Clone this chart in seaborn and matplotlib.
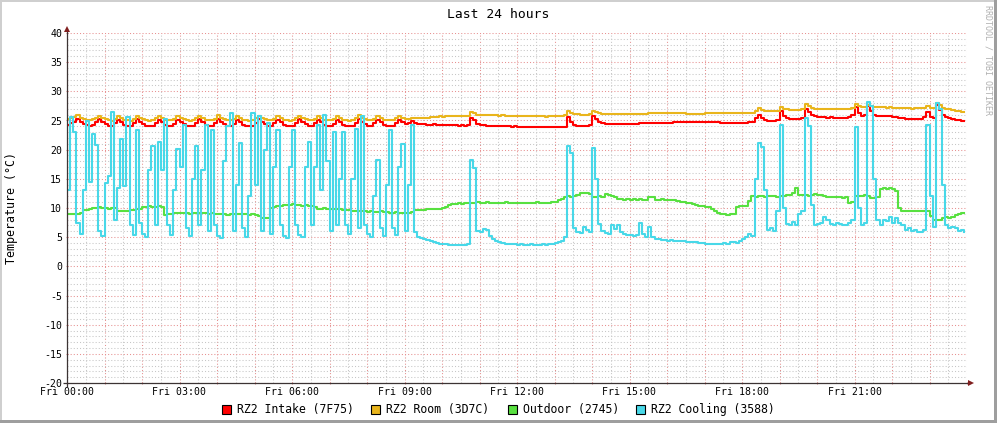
import numpy as np
import pandas as pd
import matplotlib
matplotlib.use("Agg")
import matplotlib.pyplot as plt
import seaborn as sns
from matplotlib.ticker import MultipleLocator, FuncFormatter
from matplotlib.patches import Rectangle

# ---------------- data (5-minute samples, Fri 00:00 -> 24:00) ----------------
series_names = ["RZ2 Intake (7F75)", "RZ2 Room (3D7C)", "Outdoor (2745)", "RZ2 Cooling (3588)"]
series_colors = ["#FF0000", "#E9B51C", "#58E040", "#48D8E8"]
step_minutes = 5

intake = [
24.3, 24.5, 24.8, 25.2, 24.8, 24.4, 24.2, 24.1, 24.3, 24.7,
25.2, 24.8, 24.4, 24.1, 24.0, 24.5, 25.1, 24.7, 24.3, 24.1,
24.0, 24.5, 25.2, 24.8, 24.4, 24.1, 24.0, 24.0, 24.6, 25.1,
24.7, 24.3, 24.1, 24.0, 24.4, 25.1, 24.8, 24.4, 24.1, 24.0,
24.0, 24.6, 25.2, 24.7, 24.3, 24.1, 24.0, 24.5, 25.2, 24.8,
24.4, 24.1, 24.0, 24.4, 25.1, 24.7, 24.3, 24.1, 24.0, 24.0,
24.6, 25.2, 24.8, 24.4, 24.1, 24.0, 24.5, 25.1, 24.7, 24.3,
24.1, 24.0, 24.0, 24.6, 25.2, 24.8, 24.4, 24.1, 24.0, 24.5,
25.1, 24.7, 24.3, 24.1, 24.0, 24.4, 25.1, 24.7, 24.3, 24.1,
24.0, 24.0, 24.6, 25.2, 24.8, 24.4, 24.1, 24.0, 24.5, 25.1,
24.7, 24.3, 24.1, 24.0, 24.0, 24.6, 25.1, 24.7, 24.4, 24.5,
24.9, 24.6, 24.4, 24.4, 24.4, 24.3, 24.3, 24.4, 24.3, 24.3,
24.2, 24.3, 24.2, 24.2, 24.2, 24.1, 24.2, 24.1, 24.2, 25.4,
25.0, 24.4, 24.2, 24.2, 24.1, 24.1, 24.1, 24.0, 24.1, 24.0,
24.0, 24.0, 23.9, 24.0, 23.9, 23.9, 23.9, 23.9, 23.8, 23.9,
23.8, 23.9, 23.8, 23.8, 23.8, 23.9, 23.8, 23.8, 23.8, 23.9,
25.6, 24.8, 24.2, 24.0, 24.0, 24.0, 24.0, 24.2, 25.7, 25.2,
24.7, 24.5, 24.4, 24.4, 24.4, 24.4, 24.4, 24.4, 24.4, 24.4,
24.4, 24.4, 24.4, 24.6, 24.6, 24.6, 24.6, 24.6, 24.6, 24.6,
24.6, 24.6, 24.6, 24.6, 24.7, 24.7, 24.7, 24.7, 24.7, 24.7,
24.7, 24.7, 24.7, 24.7, 24.7, 24.7, 24.7, 24.7, 24.7, 24.5,
24.5, 24.5, 24.5, 24.5, 24.5, 24.5, 24.6, 24.6, 24.7, 24.8,
25.4, 26.0, 25.4, 25.0, 24.9, 24.9, 24.9, 25.0, 26.6, 25.8,
25.4, 25.3, 25.3, 25.2, 25.3, 25.5, 27.0, 26.4, 25.9, 25.7,
25.6, 25.6, 25.6, 25.5, 25.6, 25.5, 25.5, 25.5, 25.5, 25.5,
25.6, 26.0, 27.3, 26.3, 25.8, 26.0, 27.4, 26.6, 26.0, 25.8,
25.7, 25.7, 25.8, 25.7, 25.6, 25.6, 25.5, 25.4, 25.3, 25.3,
25.3, 25.3, 25.3, 25.3, 25.6, 26.4, 25.6, 25.5, 27.7, 26.8,
26.0, 25.6, 25.4, 25.2, 25.0, 25.0, 24.9, 24.9,
]

room = [
25.2, 25.4, 25.6, 25.9, 25.5, 25.2, 25.0, 25.0, 25.2, 25.5,
25.8, 25.5, 25.2, 25.0, 24.9, 25.3, 25.8, 25.4, 25.1, 25.0,
24.9, 25.3, 25.8, 25.5, 25.2, 25.0, 24.9, 25.0, 25.4, 25.8,
25.4, 25.1, 25.0, 25.0, 25.3, 25.8, 25.5, 25.2, 25.0, 24.9,
25.0, 25.4, 25.8, 25.4, 25.1, 25.0, 25.0, 25.3, 25.9, 25.5,
25.2, 25.0, 25.0, 25.3, 25.8, 25.4, 25.1, 25.0, 24.9, 25.0,
25.4, 25.8, 25.5, 25.2, 25.0, 25.0, 25.3, 25.8, 25.4, 25.1,
25.0, 24.9, 25.0, 25.4, 25.8, 25.5, 25.2, 25.0, 25.0, 25.3,
25.8, 25.4, 25.1, 25.0, 25.0, 25.3, 25.8, 25.4, 25.1, 25.0,
24.9, 25.0, 25.4, 25.9, 25.5, 25.2, 25.0, 25.0, 25.3, 25.8,
25.4, 25.1, 25.0, 25.0, 25.0, 25.4, 25.8, 25.4, 25.2, 25.2,
25.4, 25.4, 25.5, 25.5, 25.5, 25.5, 25.6, 25.6, 25.6, 25.7,
25.6, 25.7, 25.7, 25.7, 25.7, 25.8, 25.7, 25.7, 25.8, 26.4,
26.2, 26.0, 26.0, 26.0, 25.9, 25.9, 25.9, 25.9, 25.8, 25.9,
25.8, 25.8, 25.8, 25.8, 25.8, 25.7, 25.8, 25.7, 25.7, 25.7,
25.7, 25.7, 25.7, 25.6, 25.7, 25.7, 25.7, 25.7, 25.8, 25.9,
26.6, 26.3, 26.1, 26.1, 26.0, 26.0, 26.0, 26.1, 26.6, 26.4,
26.2, 26.1, 26.1, 26.1, 26.1, 26.1, 26.1, 26.1, 26.1, 26.1,
26.1, 26.1, 26.1, 26.1, 26.1, 26.1, 26.2, 26.2, 26.2, 26.2,
26.2, 26.2, 26.2, 26.2, 26.2, 26.2, 26.2, 26.2, 26.1, 26.1,
26.1, 26.1, 26.1, 26.1, 26.2, 26.2, 26.2, 26.2, 26.2, 26.2,
26.2, 26.2, 26.2, 26.2, 26.2, 26.2, 26.3, 26.3, 26.3, 26.3,
26.6, 27.1, 26.8, 26.7, 26.6, 26.6, 26.6, 26.7, 27.3, 27.0,
26.9, 26.8, 26.8, 26.8, 26.8, 27.0, 27.9, 27.5, 27.1, 27.0,
26.9, 26.9, 26.9, 27.0, 26.9, 26.9, 26.9, 26.9, 26.9, 26.9,
27.0, 27.2, 27.9, 27.5, 27.3, 27.3, 27.7, 27.4, 27.3, 27.3,
27.3, 27.3, 27.2, 27.3, 27.2, 27.2, 27.1, 27.1, 27.1, 27.1,
27.0, 27.1, 27.1, 27.1, 27.2, 27.4, 27.2, 27.2, 28.0, 27.6,
27.2, 27.0, 26.9, 26.8, 26.7, 26.6, 26.5, 26.4,
]

outdoor = [
9.0, 9.0, 8.9, 9.0, 9.1, 9.6, 9.7, 9.8, 10.0, 10.0,
10.1, 10.0, 10.0, 9.9, 10.0, 10.0, 9.4, 9.4, 9.5, 9.4,
9.7, 9.7, 9.8, 9.9, 10.2, 10.2, 10.3, 10.2, 10.2, 10.3,
10.2, 8.8, 8.9, 9.0, 9.1, 9.1, 9.2, 9.1, 9.1, 9.0,
9.1, 9.1, 9.1, 9.2, 9.1, 9.0, 9.1, 9.0, 9.0, 8.9,
8.9, 8.8, 8.9, 8.9, 8.9, 9.0, 8.9, 8.9, 8.8, 8.9,
8.8, 8.7, 8.3, 8.2, 8.3, 10.0, 10.2, 10.3, 10.4, 10.5,
10.5, 10.5, 10.6, 10.5, 10.5, 10.4, 10.5, 10.4, 10.3, 10.2,
9.9, 9.9, 10.0, 9.9, 9.8, 9.9, 9.9, 9.8, 9.7, 9.7,
9.6, 9.4, 9.4, 9.5, 9.4, 9.4, 9.3, 9.4, 9.3, 9.3,
9.4, 9.3, 9.3, 9.2, 9.2, 9.3, 9.2, 9.2, 9.1, 9.2,
9.3, 9.6, 9.7, 9.7, 9.7, 9.8, 9.8, 9.8, 9.9, 9.9,
10.0, 10.1, 10.5, 10.7, 10.7, 10.8, 10.7, 10.8, 10.8, 10.9,
10.9, 11.0, 10.9, 10.9, 11.0, 10.9, 10.8, 10.9, 10.9, 10.9,
11.0, 10.9, 10.8, 10.9, 10.9, 10.9, 10.9, 10.8, 10.9, 10.9,
11.0, 10.9, 10.9, 10.8, 10.9, 11.0, 11.1, 11.3, 11.5, 11.8,
12.0, 11.9, 12.1, 12.3, 12.6, 12.5, 12.6, 12.4, 11.9, 11.9,
12.0, 11.8, 12.4, 12.3, 12.0, 11.9, 11.6, 11.5, 11.4, 11.5,
11.4, 11.5, 11.4, 11.5, 11.4, 11.4, 11.9, 11.8, 11.4, 11.4,
11.5, 11.4, 11.4, 11.3, 11.4, 11.2, 11.1, 11.0, 10.9, 10.8,
10.6, 10.5, 10.4, 10.3, 10.2, 10.1, 9.8, 9.5, 9.2, 8.9,
8.9, 8.8, 8.9, 9.0, 10.2, 10.3, 10.3, 10.4, 11.2, 12.0,
11.9, 12.0, 12.0, 11.9, 12.0, 12.1, 12.0, 11.9, 12.0, 12.1,
12.3, 12.3, 12.6, 13.4, 12.2, 12.3, 12.2, 12.1, 12.2, 12.4,
12.2, 12.2, 12.0, 11.9, 11.8, 11.9, 11.8, 11.9, 11.7, 11.8,
10.9, 11.0, 12.0, 12.1, 12.0, 12.2, 12.0, 11.7, 11.7, 11.8,
13.2, 13.4, 13.3, 13.4, 13.2, 12.9, 10.0, 9.5, 9.4, 9.4,
9.5, 9.4, 9.4, 9.4, 9.5, 9.4, 8.6, 8.0, 7.9, 8.0,
8.3, 8.4, 8.3, 8.5, 8.8, 9.0, 9.1, 9.2,
]

cooling = [
13.0, 25.6, 23.0, 7.5, 5.5, 13.0, 24.9, 14.5, 22.7, 20.8,
6.0, 5.2, 14.2, 15.5, 26.5, 8.0, 13.5, 21.9, 13.8, 25.6,
7.0, 5.3, 23.3, 7.5, 5.6, 5.0, 16.5, 20.7, 7.0, 21.3,
16.5, 25.3, 7.0, 5.3, 13.0, 20.1, 17.0, 24.3, 6.5, 5.2,
15.0, 20.7, 7.0, 16.5, 24.3, 6.0, 23.4, 7.0, 5.2, 4.8,
18.1, 24.0, 26.3, 6.0, 14.0, 21.1, 6.5, 5.0, 12.0, 26.3,
14.0, 25.7, 6.0, 20.0, 24.6, 5.5, 17.0, 23.3, 7.0, 5.2,
4.8, 17.0, 23.3, 7.0, 5.3, 5.0, 17.0, 21.3, 7.0, 17.0,
24.3, 13.0, 26.0, 18.0, 6.0, 23.0, 7.0, 15.0, 23.0, 7.0,
5.5, 15.0, 23.5, 6.5, 25.7, 7.0, 5.5, 5.0, 12.0, 18.3,
6.5, 5.2, 14.0, 23.4, 6.5, 5.3, 17.0, 20.9, 6.0, 14.0,
24.3, 5.8, 5.0, 4.8, 4.6, 4.5, 4.3, 4.2, 4.0, 3.9,
3.8, 3.8, 3.7, 3.7, 3.6, 3.6, 3.7, 3.6, 3.8, 18.3,
16.9, 6.0, 5.8, 6.4, 6.2, 5.2, 4.6, 4.3, 4.1, 4.0,
3.9, 3.9, 3.8, 3.8, 3.7, 3.8, 3.7, 3.7, 3.8, 3.6,
3.7, 3.7, 3.8, 3.7, 3.8, 3.8, 4.0, 4.2, 4.3, 5.0,
20.6, 19.5, 6.5, 5.8, 5.7, 6.8, 6.3, 5.8, 20.3, 15.0,
7.2, 6.0, 5.7, 5.6, 7.0, 6.4, 7.0, 5.8, 5.6, 5.4,
5.3, 5.2, 5.4, 7.4, 5.6, 5.1, 6.8, 5.0, 4.7, 4.6,
4.5, 4.5, 4.4, 4.5, 4.4, 4.4, 4.3, 4.3, 4.2, 4.2,
4.1, 4.2, 4.0, 4.0, 3.9, 3.9, 3.8, 3.9, 3.8, 3.9,
4.0, 3.9, 4.1, 4.2, 4.0, 4.4, 4.6, 5.0, 5.6, 5.2,
15.0, 21.1, 20.5, 13.0, 6.3, 6.6, 6.0, 9.5, 24.3, 10.0,
7.2, 7.0, 7.6, 7.0, 8.9, 9.5, 25.4, 24.0, 10.5, 7.0,
7.3, 7.4, 8.5, 8.0, 7.2, 7.0, 7.5, 7.2, 7.0, 7.1,
7.4, 8.0, 23.9, 10.0, 7.0, 7.5, 28.1, 27.5, 15.0, 8.0,
7.0, 8.0, 7.8, 8.4, 7.5, 8.2, 7.5, 7.0, 6.2, 6.5,
6.0, 6.2, 5.8, 5.8, 6.3, 24.3, 12.0, 6.7, 28.0, 27.0,
14.0, 7.0, 6.5, 6.8, 6.5, 6.0, 6.2, 5.8,
]

x_tick_hours = [0, 3, 6, 9, 12, 15, 18, 21]
x_tick_labels = ["Fri 00:00", "Fri 03:00", "Fri 06:00", "Fri 09:00",
                 "Fri 12:00", "Fri 15:00", "Fri 18:00", "Fri 21:00"]

# ---------------- build long table ----------------
frames = []
for name, vals in zip(series_names, [intake, room, outdoor, cooling]):
    hrs = np.arange(len(vals)) * step_minutes / 60.0
    frames.append(pd.DataFrame({"hours": hrs, "temp": vals, "series": name}))
df = pd.concat(frames, ignore_index=True)

# ---------------- figure ----------------
plt.rcParams["font.family"] = ["DejaVu Sans Mono"]
W, H = 997, 423
fig = plt.figure(figsize=(W / 100, H / 100), dpi=100, facecolor="white")
ax = fig.add_axes([67 / W, 40 / H, 900 / W, 350 / H])
ax.set_facecolor("white")

sns.lineplot(data=df, x="hours", y="temp", hue="series", hue_order=series_names,
             palette=dict(zip(series_names, series_colors)), estimator=None,
             errorbar=None, sort=False, drawstyle="steps-post", linewidth=1.5,
             legend=False, ax=ax)

ax.set_xlim(0, 24)
ax.set_ylim(-20, 40)
ax.set_xlabel("")
ax.set_ylabel("")

ax.xaxis.set_major_locator(MultipleLocator(1))
ax.xaxis.set_minor_locator(MultipleLocator(0.5))
ax.yaxis.set_major_locator(MultipleLocator(5))
ax.yaxis.set_minor_locator(MultipleLocator(1))

lab_map = dict(zip(x_tick_hours, x_tick_labels))
ax.xaxis.set_major_formatter(FuncFormatter(lambda v, p: lab_map.get(int(round(v)), "")
                                           if abs(v - round(v)) < 1e-6 else ""))
ax.yaxis.set_major_formatter(FuncFormatter(lambda v, p: f"{int(round(v))}"))

ax.set_axisbelow(True)
ax.grid(which="minor", color="#C6C6C6", linestyle=(0, (1, 2)), linewidth=0.75)
ax.grid(which="major", color="#E79090", linestyle=(0, (1, 2)), linewidth=0.75)

ax.tick_params(which="major", axis="both", length=2, width=0.8, color="#D88080",
               direction="inout", labelsize=7.1, labelcolor="black")
ax.tick_params(which="major", axis="x", pad=2)
ax.tick_params(which="major", axis="y", pad=2.5)
ax.tick_params(which="minor", length=0)

for sp in ax.spines.values():
    sp.set_visible(False)

# axis lines with arrows (RRDtool style)
axis_col = "#3C3434"
arrow_col = "#801F1F"
ax.plot([-4 / 900, 1 + 3 / 900], [0, 0], transform=ax.transAxes, color=axis_col,
        lw=0.9, clip_on=False, solid_capstyle="butt", zorder=5)
ax.plot([0, 0], [-4 / 350, 1 + 3 / 350], transform=ax.transAxes, color=axis_col,
        lw=0.9, clip_on=False, solid_capstyle="butt", zorder=5)
ax.plot([1 + 4 / 900], [0], transform=ax.transAxes, marker=">", ms=4.5, color=arrow_col,
        clip_on=False, zorder=6, markeredgewidth=0)
ax.plot([0], [1 + 4 / 350], transform=ax.transAxes, marker="^", ms=4.5, color=arrow_col,
        clip_on=False, zorder=6, markeredgewidth=0)

# texts
fig.text(0.5, 1 - 14 / H, "Last 24 hours", ha="center", va="center", fontsize=9.4)
fig.text(11 / W, 1 - 208 / H, "Temperature (°C)", rotation=90, ha="center",
         va="center", fontsize=8.4)
fig.text(988 / W, 1 - 60 / H, "RRDTOOL / TOBI OETIKER", rotation=270, ha="center",
         va="center", fontsize=6, color="#B0B0B0")

# legend
leg_x = [222, 371, 508, 636]
leg_y = 409
for sx, name, col in zip(leg_x, series_names, series_colors):
    fig.add_artist(Rectangle((sx / W, 1 - (leg_y + 4.5) / H), 9 / W, 9 / H,
                             transform=fig.transFigure, facecolor=col,
                             edgecolor="black", lw=0.8))
    fig.text((sx + 15) / W, 1 - leg_y / H, name, ha="left", va="center", fontsize=8.3)

# frame shading
fig.add_artist(Rectangle((0, 1 - 2 / H), 1, 2 / H, transform=fig.transFigure,
                         facecolor="#CFCFCF", edgecolor="none"))
fig.add_artist(Rectangle((0, 0), 2 / W, 1, transform=fig.transFigure,
                         facecolor="#CFCFCF", edgecolor="none"))
fig.add_artist(Rectangle((0, 0), 1, 3 / H, transform=fig.transFigure,
                         facecolor="#9E9E9E", edgecolor="none"))
fig.add_artist(Rectangle((1 - 3 / W, 0), 3 / W, 1, transform=fig.transFigure,
                         facecolor="#9E9E9E", edgecolor="none"))

fig.savefig("out.png", dpi=100, facecolor="white")
